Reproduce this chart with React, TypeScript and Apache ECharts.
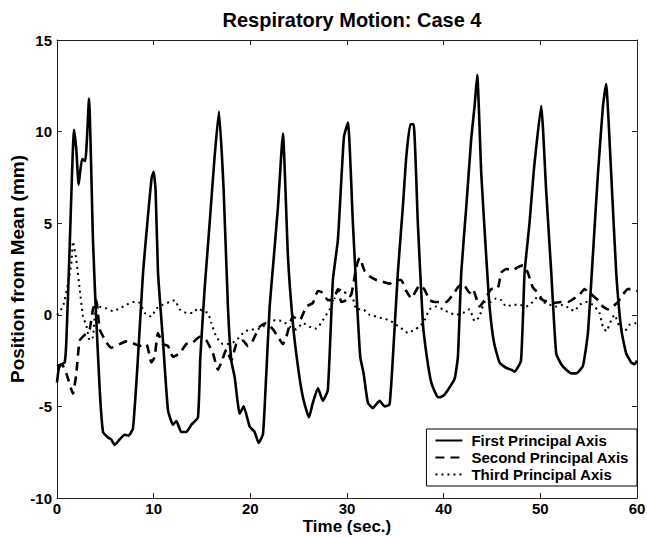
import React, { useEffect, useRef } from "react";
import * as echarts from "echarts";

const title = "Respiratory Motion: Case 4";
const xName = "Time (sec.)";
const yName = "Position from Mean (mm)";
const seriesNames = ["First Principal Axis", "Second Principal Axis", "Third Principal Axis"];

const firstT = [0, 0.2, 0.5, 0.8, 0.97, 1.31, 1.76, 2.0, 2.24, 2.59, 2.93, 3.31, 3.72, 3.97, 4.42, 4.76, 5.28, 5.6, 5.97, 6.48, 7.0, 7.4, 7.86, 8.38, 8.9, 9.41, 9.8, 10.0, 10.2, 10.45, 10.96, 11.48, 12.0, 12.35, 12.86, 13.38, 13.9, 14.58, 14.83, 15.27, 15.79, 16.3, 16.75, 17.24, 17.68, 18.03, 18.38, 18.9, 19.31, 19.93, 20.45, 20.86, 21.31, 21.65, 22.0, 22.34, 22.86, 23.37, 23.89, 24.4, 24.92, 25.44, 26.06, 26.47, 26.99, 27.5, 28.02, 28.54, 29.06, 29.68, 30.1, 30.61, 30.96, 31.37, 31.72, 32.16, 32.68, 33.0, 33.37, 33.9, 34.4, 34.75, 35.26, 35.78, 36.13, 36.55, 36.89, 37.33, 37.85, 38.26, 38.72, 39.4, 39.58, 40.0, 40.44, 41.13, 41.47, 41.82, 42.34, 42.85, 43.2, 43.47, 43.89, 44.4, 44.75, 45.2, 45.78, 46.47, 46.99, 47.33, 48.0, 48.37, 48.88, 49.33, 50.09, 50.6, 51.13, 51.64, 52.16, 52.68, 53.2, 53.7, 54.4, 54.92, 55.43, 55.96, 56.48, 56.8, 57.33, 57.85, 58.37, 58.88, 59.4, 59.74, 60.0];
const firstV = [-3.7, -2.9, -2.7, -2.6, -1.4, 3.7, 10.1, 9.0, 7.1, 8.5, 8.4, 11.8, 4.1, 0.8, -4.1, -6.4, -6.7, -6.8, -7.1, -6.8, -6.55, -6.6, -6.2, -2.3, 2.3, 5.4, 7.5, 7.8, 6.8, 2.3, -1.4, -5.2, -6.0, -5.8, -6.4, -6.4, -6.0, -5.6, -2.3, 1.4, 5.0, 8.6, 11.1, 6.8, 0.45, -2.5, -3.4, -5.4, -5.0, -6.1, -6.4, -7.0, -6.5, -3.2, 0.45, 2.6, 5.9, 9.9, 3.2, -0.45, -2.8, -4.5, -5.6, -4.8, -4.0, -4.7, -4.1, 1.9, 4.1, 9.7, 10.5, 5.0, 1.4, -2.3, -3.2, -4.8, -5.1, -4.9, -4.7, -5.0, -4.9, -2.3, 2.3, 5.9, 8.6, 10.4, 10.4, 5.0, -0.45, -2.3, -3.7, -4.5, -4.5, -4.4, -4.1, -3.5, -2.3, 2.3, 5.9, 9.6, 11.4, 13.1, 7.7, 3.2, 0.45, -1.5, -2.6, -2.9, -3.0, -3.1, -2.5, 2.3, 5.0, 7.9, 11.4, 6.8, 2.3, -2.1, -2.7, -3.0, -3.2, -3.2, -2.8, -1.0, 3.2, 7.7, 11.4, 12.6, 7.7, 2.3, -0.8, -2.1, -2.6, -2.7, -2.5];

const secondT = [0, 0.5, 0.97, 1.65, 2.0, 2.35, 3.04, 3.38, 3.72, 4.07, 4.42, 5.11, 5.63, 6.48, 7.18, 7.86, 8.55, 9.25, 9.76, 10.1, 10.44, 10.96, 11.48, 12.0, 12.69, 13.38, 14.06, 14.76, 15.45, 16.13, 16.65, 17.0, 17.52, 18.03, 18.55, 19.23, 19.75, 20.27, 20.96, 21.65, 22.34, 22.85, 23.37, 23.72, 24.4, 25.1, 25.79, 26.47, 27.0, 27.5, 28.02, 28.54, 29.06, 29.41, 29.93, 30.44, 30.96, 31.3, 31.82, 32.34, 33.03, 33.71, 34.4, 35.1, 35.6, 36.13, 36.65, 37.5, 38.0, 38.55, 39.06, 40.27, 40.95, 41.47, 41.99, 42.68, 43.02, 43.71, 44.23, 44.92, 45.6, 45.96, 46.47, 47.16, 47.67, 48.19, 48.71, 49.22, 49.74, 50.26, 51.47, 52.16, 52.84, 54.05, 54.57, 55.08, 55.95, 56.47, 56.98, 57.5, 58.02, 58.53, 59.05, 59.57, 60.0];
const secondV = [-2.8, -2.7, -3.2, -4.3, -3.2, -1.4, -1.0, -0.8, 0.3, 0.8, -0.8, -1.5, -1.8, -1.6, -1.45, -1.55, -1.7, -1.6, -2.6, -2.3, -1.0, -1.6, -1.7, -2.3, -2.1, -1.6, -1.5, -1.2, -1.4, -2.1, -3.0, -2.6, -1.9, -2.5, -1.6, -1.4, -1.7, -1.4, -0.65, -0.45, -0.8, -1.2, -1.6, -1.2, -0.1, -0.3, 0.45, 0.65, 1.3, 1.2, 0.8, 0.8, 1.4, 0.7, 0.8, 1.1, 2.6, 3.1, 2.4, 2.1, 1.9, 1.8, 1.7, 1.9, 1.9, 1.3, 0.9, 1.6, 1.4, 0.8, 0.7, 0.7, 1.1, 1.5, 1.7, 1.2, 1.4, 0.45, 0.8, 1.4, 1.45, 2.3, 2.5, 2.45, 2.6, 2.7, 2.3, 1.5, 1.2, 0.8, 0.65, 0.7, 0.7, 1.1, 1.4, 1.2, 0.8, 0.45, 0.3, 0.45, 0.7, 1.1, 1.4, 1.4, 1.3];

const thirdT = [0, 0.62, 1.14, 1.49, 1.65, 2.0, 2.35, 2.69, 3.04, 3.38, 3.72, 4.07, 4.42, 5.11, 5.79, 6.48, 7.18, 7.86, 8.55, 9.07, 9.76, 10.28, 10.96, 11.65, 12.17, 12.69, 13.38, 14.06, 14.58, 15.1, 15.62, 15.97, 16.48, 17.17, 17.86, 18.55, 19.23, 19.93, 20.62, 21.3, 22.0, 22.69, 23.37, 24.07, 24.76, 25.44, 26.13, 26.82, 27.5, 28.2, 28.72, 29.06, 29.58, 30.09, 30.61, 30.96, 31.64, 32.34, 33.03, 33.71, 34.4, 35.1, 35.78, 36.3, 36.99, 37.5, 38.02, 38.54, 39.23, 39.92, 40.61, 41.3, 41.99, 42.68, 43.2, 43.71, 44.23, 44.92, 45.44, 45.96, 46.47, 47.16, 47.85, 48.54, 49.22, 49.74, 50.26, 50.96, 51.64, 52.33, 53.02, 53.54, 54.05, 54.74, 55.43, 56.12, 56.47, 56.82, 57.33, 57.67, 58.19, 58.71, 59.23, 59.92];
const thirdV = [0.0, 0.45, 1.7, 2.8, 4.0, 3.0, 1.4, -0.1, -0.6, -1.4, -1.2, 0.7, 0.45, 0.35, 0.2, 0.35, 0.55, 0.7, 0.65, 0.1, -0.1, 0.35, 0.55, 0.7, 0.8, 0.3, 0.1, 0.1, 0.35, 0.2, 0.1, -0.45, -1.2, -1.6, -1.6, -1.4, -1.0, -0.8, -0.8, -0.65, -0.35, -0.3, -0.35, -0.65, -0.8, -0.45, -0.65, -0.75, -0.3, 0.3, 0.9, 1.4, 1.3, 1.1, 0.9, 0.3, 0.3, 0.0, -0.1, -0.2, -0.3, -0.55, -0.8, -1.0, -0.8, -0.65, -0.3, 0.3, 0.45, 0.3, 0.1, 0.0, 0.1, 0.3, -0.35, -0.1, 0.7, 0.7, 0.9, 0.8, 0.45, 0.55, 0.55, 0.45, 0.7, 1.0, 0.7, 0.55, 0.45, 0.55, 0.35, 0.2, 0.55, 0.7, 0.55, 0.1, -0.65, -0.9, -0.3, 0.0, -0.65, -0.9, -0.55, -0.45];

const FONT = "'Liberation Sans', Arial, Helvetica, sans-serif";

function pairs(t: number[], v: number[]) {
  return t.map((x, i) => [x, v[i]]);
}

export default function App() {
  const ref = useRef<HTMLDivElement>(null);
  useEffect(() => {
    if (!ref.current) return;
    const chart = echarts.init(ref.current, undefined, { renderer: "svg" });
    const axisLine = { show: true, onZero: false, lineStyle: { color: "#222", width: 1 } };
    const tick = { show: true, inside: true, length: 5, lineStyle: { color: "#222", width: 1 } };
    const label = { color: "#000", fontFamily: FONT, fontWeight: "bold" as const, fontSize: 15 };
    chart.setOption({
      animation: false,
      backgroundColor: "#fff",
      title: {
        text: title,
        left: 347,
        top: 5,
        textAlign: "center",
        textStyle: { fontFamily: FONT, fontWeight: "bold", fontSize: 20, color: "#000" },
      },
      legend: {
        orient: "vertical",
        right: 10,
        top: 429,
        padding: [4, 8, 4, 8],
        itemGap: 2,
        itemWidth: 27,
        itemHeight: 14,
        borderColor: "#000",
        borderWidth: 1,
        backgroundColor: "#fff",
        itemStyle: { opacity: 0 },
        textStyle: { fontFamily: FONT, fontWeight: "bold", fontSize: 15, color: "#000", padding: [0, 0, 0, 4] },
        data: seriesNames,
      },
      grid: { left: 57, right: 10, top: 40, bottom: 39, containLabel: false, outerBoundsMode: "none" },
      xAxis: [
        {
          type: "value",
          min: 0,
          max: 60,
          interval: 10,
          name: xName,
          nameLocation: "middle",
          nameGap: 20,
          nameMoveOverlap: false,
          nameTextStyle: { fontFamily: FONT, fontWeight: "bold", fontSize: 17, color: "#000" },
          axisLine,
          axisTick: tick,
          axisLabel: { ...label, margin: 3 },
          splitLine: { show: false },
        },
        {
          type: "value",
          position: "top",
          min: 0,
          max: 60,
          interval: 10,
          axisLine,
          axisTick: tick,
          axisLabel: { show: false },
          splitLine: { show: false },
        },
      ],
      yAxis: [
        {
          type: "value",
          min: -10,
          max: 15,
          interval: 5,
          name: yName,
          nameLocation: "middle",
          nameGap: 30,
          nameMoveOverlap: false,
          nameTextStyle: { fontFamily: FONT, fontWeight: "bold", fontSize: 19, color: "#000" },
          axisLine,
          axisTick: tick,
          axisLabel: { ...label, margin: 5 },
          splitLine: { show: false },
        },
        {
          type: "value",
          position: "right",
          min: -10,
          max: 15,
          interval: 5,
          axisLine,
          axisTick: tick,
          axisLabel: { show: false },
          splitLine: { show: false },
        },
      ],
      series: [
        {
          name: seriesNames[0],
          type: "line",
          data: pairs(firstT, firstV),
          showSymbol: false,
          symbol: "none",
          smooth: 0.15,
          lineStyle: { color: "#000", width: 2.6, type: "solid" },
          itemStyle: { color: "#000" },
          z: 3,
        },
        {
          name: seriesNames[1],
          type: "line",
          data: pairs(secondT, secondV),
          showSymbol: false,
          symbol: "none",
          smooth: 0.15,
          lineStyle: { color: "#000", width: 2.6, type: [9, 6] },
          itemStyle: { color: "#000" },
          z: 2,
        },
        {
          name: seriesNames[2],
          type: "line",
          data: pairs(thirdT, thirdV),
          showSymbol: false,
          symbol: "none",
          smooth: 0.15,
          lineStyle: { color: "#000", width: 2, type: [2, 4] },
          itemStyle: { color: "#000" },
          z: 1,
        },
      ],
    });
    return () => chart.dispose();
  }, []);
  return (
    <div
      ref={ref}
      style={{ position: "fixed", left: 0, top: 0, width: 647, height: 537, background: "#fff" }}
    />
  );
}
